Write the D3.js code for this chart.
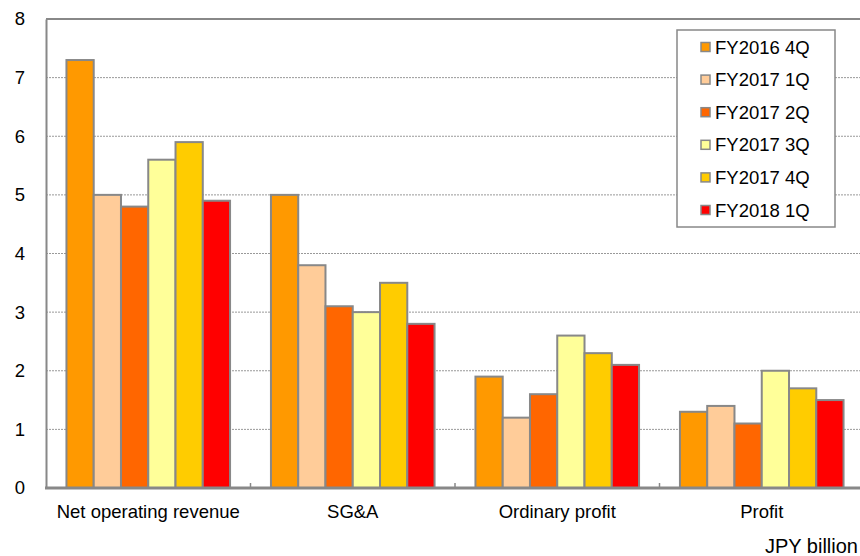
<!DOCTYPE html>
<html><head><meta charset="utf-8">
<script src="https://cdn.jsdelivr.net/npm/d3@7"></script>
<style>body{margin:0;background:#fff}svg{display:block}text{font-family:"Liberation Sans",Arial,sans-serif}</style>
</head><body><svg id="c" width="860" height="556"></svg>
<script>
const categories = ["Net operating revenue", "SG&A", "Ordinary profit", "Profit"];
const seriesNames = ["FY2016 4Q", "FY2017 1Q", "FY2017 2Q", "FY2017 3Q", "FY2017 4Q", "FY2018 1Q"];
const colors = ["#FF9900", "#FFCC99", "#FF6600", "#FFFF99", "#FFCC00", "#FF0000"];
const fy2016q4 = [7.3, 5.0, 1.9, 1.3];
const fy2017q1 = [5.0, 3.8, 1.2, 1.4];
const fy2017q2 = [4.8, 3.1, 1.6, 1.1];
const fy2017q3 = [5.6, 3.0, 2.6, 2.0];
const fy2017q4 = [5.9, 3.5, 2.3, 1.7];
const fy2018q1 = [4.9, 2.8, 2.1, 1.5];
const yTicks = [0, 1, 2, 3, 4, 5, 6, 7, 8];
const unitLabel = "JPY billion";

const FS = 18.5;
const series = [fy2016q4, fy2017q1, fy2017q2, fy2017q3, fy2017q4, fy2018q1];
const svg = d3.select("#c");
const L = 46, R = 864, T = 19, B = 488;
const x = d3.scaleBand().domain(categories).range([L, R]).paddingInner(0).paddingOuter(0);
const x1 = d3.scaleBand().domain(d3.range(6)).range([0, x.bandwidth()]).paddingOuter(0.75).paddingInner(0);
const y = d3.scaleLinear().domain([0, 8]).range([B, T]);

// gridlines
svg.append("g").selectAll("line").data(yTicks.filter(d => d > 0 && d < 8)).join("line")
  .attr("x1", L).attr("x2", R).attr("y1", d => y(d)).attr("y2", d => y(d))
  .attr("stroke", "#999").attr("stroke-width", 1).attr("stroke-dasharray", "2,1");
// top frame
svg.append("line").attr("x1", L).attr("x2", 860).attr("y1", y(8)).attr("y2", y(8))
  .attr("stroke", "#888").attr("stroke-width", 2);

// bars
const g = svg.append("g");
categories.forEach((c, ci) => {
  series.forEach((s, si) => {
    g.append("rect")
      .attr("x", x(c) + x1(si))
      .attr("y", y(s[ci]))
      .attr("width", x1.bandwidth())
      .attr("height", y(0) - y(s[ci]))
      .attr("fill", colors[si]).attr("stroke", "#888").attr("stroke-width", 2);
  });
});

// y axis
const ya = svg.append("g").attr("transform", `translate(${L},0)`)
  .call(d3.axisLeft(y).tickValues(yTicks).tickSize(0).tickPadding(10).tickFormat(d3.format("d")));
ya.select(".domain").attr("stroke", "#888").attr("stroke-width", 2);
ya.selectAll("text").attr("font-size", FS).attr("fill", "#000")
  .attr("font-family", '"Liberation Sans",Arial,sans-serif').attr("x", -26).attr("text-anchor", "middle");

// x axis
const xa = svg.append("g").attr("transform", `translate(0,${B})`)
  .call(d3.axisBottom(x).tickSize(0).tickPadding(17));
xa.select(".domain").remove();
xa.selectAll("text").attr("font-size", FS).attr("fill", "#000")
  .attr("font-family", '"Liberation Sans",Arial,sans-serif');
svg.append("line").attr("x1", L - 1).attr("x2", 860).attr("y1", B).attr("y2", B)
  .attr("stroke", "#888").attr("stroke-width", 3);
svg.append("g").selectAll("line").data(categories.slice(1)).join("line")
  .attr("x1", d => x(d)).attr("x2", d => x(d)).attr("y1", B).attr("y2", B - 5)
  .attr("stroke", "#888").attr("stroke-width", 1.5);

svg.append("text").attr("x", 858).attr("y", 553).attr("text-anchor", "end")
  .attr("font-size", 20).attr("fill", "#000").text(unitLabel);

// legend
const lg = svg.append("g");
lg.append("rect").attr("x", 677).attr("y", 30).attr("width", 158).attr("height", 197)
  .attr("fill", "#fff").attr("stroke", "#888").attr("stroke-width", 1.5);
seriesNames.forEach((n, i) => {
  const cy = 47 + i * 32.6;
  lg.append("rect").attr("x", 701).attr("y", cy - 4.5).attr("width", 9).attr("height", 9)
    .attr("fill", colors[i]).attr("stroke", "#888").attr("stroke-width", 1.5);
  lg.append("text").attr("x", 715).attr("y", cy + 6.5).attr("font-size", FS).attr("fill", "#000").text(n);
});
</script></body></html>
